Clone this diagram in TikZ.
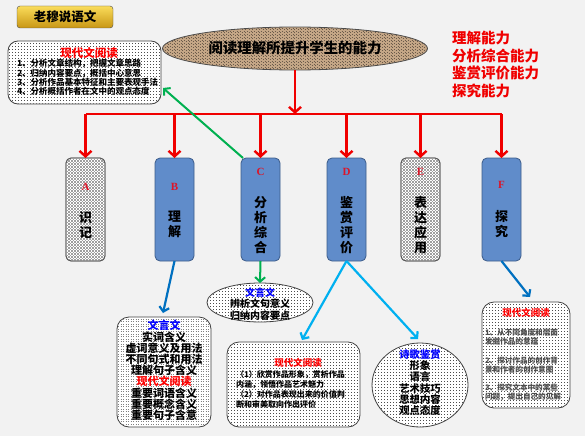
\documentclass[tikz,border=0pt]{standalone}
\usepackage{fontspec}
\setmainfont{Liberation Serif}
\newfontfamily\cjk{Noto Sans CJK SC}
\usetikzlibrary{shapes.geometric,arrows.meta}
\definecolor{bgcol}{RGB}{242,242,242}
\definecolor{myred}{RGB}{240,0,0}
\definecolor{lettred}{RGB}{220,20,40}
\definecolor{mygreen}{RGB}{0,176,80}
\definecolor{myblue}{RGB}{0,112,192}
\definecolor{mycyan}{RGB}{0,176,240}
\definecolor{boxblue}{RGB}{96,140,202}
\definecolor{boxborder}{RGB}{60,92,138}
\definecolor{ellcol}{RGB}{196,166,134}
\definecolor{gold1}{RGB}{250,220,90}
\definecolor{gold2}{RGB}{200,150,20}
\tikzset{
  every node/.style={inner sep=0pt, outer sep=0pt},
  cjkt/.style 2 args={font=\cjk\bfseries\fontsize{#1}{#2}\selectfont},
  redarrow/.style={draw=myred, line width=2.4pt, -{Straight Barb[length=5.5pt,width=12pt]}},
  redline/.style={draw=myred, line width=2.4pt},
  greenarrow/.style={draw=mygreen, line width=2pt, -{Straight Barb[length=4.5pt,width=10pt]}},
  bluearrow/.style={draw=myblue, line width=2.2pt, -{Straight Barb[length=4.5pt,width=10pt]}},
  cyanarrow/.style={draw=mycyan, line width=2.2pt, -{Straight Barb[length=4.5pt,width=10pt]}},
  bluebox/.style={rectangle, rounded corners=5pt, draw=boxborder, fill=boxblue, line width=0.8pt, minimum width=39pt, minimum height=103pt},
  hatchbox/.style={rectangle, rounded corners=5pt, draw=gray!70!black, fill=white, line width=0.8pt, minimum width=39pt, minimum height=103pt},
  dotbox/.style={rectangle, draw=gray!50!black, fill=white, line width=0.8pt},
  dotell/.style={ellipse, draw=gray!50!black, fill=white, line width=0.8pt},
  dotrow/.style={draw=black!70, line width=0.9pt, dash pattern=on 0.9pt off 2.1pt},
  checkrow/.style={draw=gray!75, line width=1.5pt, dash pattern=on 1.5pt off 1.5pt},
  speckrow/.style={draw=ellcol!55!black, line width=0.9pt, dash pattern=on 0.9pt off 2.6pt},
  letter/.style={font=\bfseries\fontsize{11}{11}\selectfont, text=lettred},
  boxtext/.style={cjkt={13}{15}, align=center},
}
\begin{document}
\begin{tikzpicture}[x=1pt,y=-1pt]
\fill[bgcol] (0,0) rectangle (585,436);
\useasboundingbox (0,0) rectangle (585,436);

% title
\node[rectangle, rounded corners=3pt, draw=gray!60!black, top color=gold1, bottom color=gold2,
      minimum width=96pt, minimum height=22pt, cjkt={12.5}{13}] (title) at (65,17) {老穆说语文};

% top-left box
\node[dotbox, rounded corners=10pt, minimum width=153pt, minimum height=63pt] (lbox) at (84.5,72.5) {};
\begin{scope}
  \clip[rounded corners=10pt] (8.5,41.5) rectangle (160.5,103.5);
  \foreach \yy in {43,46,...,103} \draw[dotrow] (9,\yy) -- (161,\yy);
\end{scope}
\node[cjkt={11.5}{12}, text=red] (lboxt) at (89,53) {现代文阅读};
\node[cjkt={8.5}{9.4}, anchor=west, align=left] (lboxb) at (17,77.5)
  {1、分析文章结构，把握文章思路\\2、归纳内容要点，概括中心意思\\3、分析作品基本特征和主要表现手法\\4、分析概括作者在文中的观点态度};

% main ellipse
\node[ellipse, draw=gray!60!black, line width=0.8pt, fill=ellcol, minimum width=265pt, minimum height=43pt] (main) at (295,48.5) {};
\begin{scope}
  \clip (295,48.5) ellipse [x radius=132, y radius=21];
  \foreach \yy in {28,31,...,70} \draw[speckrow] (163,\yy) -- (428,\yy);
  \foreach \yy in {29.5,32.5,...,70} \draw[speckrow, dash phase=1.7pt] (163,\yy) -- (428,\yy);
\end{scope}
\node[cjkt={14.4}{15}] (maint) at (295,48.5) {阅读理解所提升学生的能力};

% right red list
\node[cjkt={14.5}{15}, text=myred, anchor=west] (r1) at (452,38) {理解能力};
\node[cjkt={14.5}{15}, text=myred, anchor=west] (r2) at (452,56) {分析综合能力};
\node[cjkt={14.5}{15}, text=myred, anchor=west] (r3) at (452,73) {鉴赏评价能力};
\node[cjkt={14.5}{15}, text=myred, anchor=west] (r4) at (452,90.5) {探究能力};

% six category boxes
\node[hatchbox] (A) at (85.5,209.5) {};
\node[bluebox]  (B) at (174.5,209.5) {};
\node[bluebox]  (C) at (260.5,209.5) {};
\node[bluebox]  (D) at (346.5,209.5) {};
\node[hatchbox] (E) at (420.5,209.5) {};
\node[bluebox]  (F) at (501.5,209.5) {};
\foreach \xa/\xb in {66.5/104.5, 401.5/439.5}{
  \begin{scope}
    \clip[rounded corners=5pt] (\xa,158.5) rectangle (\xb,260.5);
    \foreach \yy in {159.25,162.25,...,261} \draw[checkrow] (\xa,\yy) -- (\xb,\yy);
    \foreach \yy in {160.75,163.75,...,261} \draw[checkrow, dash phase=1.5pt] (\xa,\yy) -- (\xb,\yy);
  \end{scope}
}
\draw[draw=gray!70!black, line width=0.8pt, rounded corners=5pt] (A.north west) rectangle (A.south east);
\draw[draw=gray!70!black, line width=0.8pt, rounded corners=5pt] (E.north west) rectangle (E.south east);

\node[letter] (lA) at (85.5,187) {A};
\node[letter] (lB) at (174.5,187) {B};
\node[letter] (lC) at (260.5,172) {C};
\node[letter] (lD) at (346.5,172) {D};
\node[letter] (lE) at (420.5,172) {E};
\node[letter] (lF) at (501.5,185) {F};

\node[boxtext] (tA) at (85.5,225.5) {识\\记};
\node[boxtext] (tB) at (174.5,224.5) {理\\解};
\node[boxtext] (tC) at (260.5,225) {分\\析\\综\\合};
\node[boxtext] (tD) at (346.5,225) {鉴\\赏\\评\\价};
\node[boxtext] (tE) at (420.5,225) {表\\达\\应\\用};
\node[boxtext] (tF) at (501.5,224.5) {探\\究};

% red connectors
\coordinate (hub) at (295,114);
\draw[redarrow] (main.south) -- (hub);
\draw[redline] (A.north |- hub) -- (F.north |- hub);
\foreach \n in {A,B,C,D,E,F} \draw[redarrow] (\n.north |- hub) -- (\n.north);

% green connectors
\draw[greenarrow] ([xshift=2pt]C.north west) -- ([shift={(2,-16)}]lbox.south east);
\node[dotell, minimum width=106pt, minimum height=39pt] (cell) at (260,302.5) {};
\begin{scope}
  \clip (260,302.5) ellipse [x radius=52.5, y radius=19];
  \foreach \yy in {285,288,...,321} \draw[dotrow] (207,\yy) -- (313,\yy);
\end{scope}
\node[cjkt={10}{11.5}, align=center] (cellt) at (260,304)
  {\textcolor{blue}{文言文}\\辨析文句意义\\归纳内容要点};
\draw[greenarrow] (C.south) -- (cell.north);

% B detail box
\node[dotbox, rounded corners=12pt, minimum width=94pt, minimum height=110pt] (bbox) at (164,372) {};
\begin{scope}
  \clip[rounded corners=12pt] (117.5,317.5) rectangle (210.5,426.5);
  \foreach \yy in {319,321.5,...,426} \draw[dotrow, draw=black!50, dash pattern=on 0.9pt off 1.6pt] (118,\yy) -- (211,\yy);
\end{scope}
\node[cjkt={11}{11.2}, align=center] (bboxt) at (164,370.5)
  {\textcolor{blue}{文言文}\\实词含义\\虚词意义及用法\\不同句式和用法\\理解句子含义\\\textcolor{red}{现代文阅读}\\重要词语含义\\重要概念含义\\重要句子含意};
\draw[bluearrow] (B.south) -- ([shift={(-1,-4)}]bbox.north);

% D detail left
\node[dotbox, rounded corners=12pt, minimum width=133pt, minimum height=85pt] (dl) at (293.5,384.5) {};
\begin{scope}
  \clip[rounded corners=12pt] (227.5,342.5) rectangle (359.5,426.5);
  \foreach \yy in {344,347,...,426} \draw[dotrow] (228,\yy) -- (360,\yy);
\end{scope}
\node[cjkt={9.5}{10}, text=red] (dlt) at (298,363) {现代文阅读};
\node[cjkt={8}{9.9}, anchor=west, align=left] (dlb) at (236,389.5)
  {（1）欣赏作品形象，赏析作品\\内涵，领悟作品艺术魅力\\（2）对作品表现出来的价值判\\断和审美取向作出评价};
\draw[cyanarrow] (D.south) -- ([shift={(8.5,-2)}]dl.north);

% D detail right
\node[dotell, minimum width=96pt, minimum height=84pt] (dr) at (420,385) {};
\begin{scope}
  \clip (420,385) ellipse [x radius=47.5, y radius=41.5];
  \foreach \yy in {345,348,...,427} \draw[dotrow] (372,\yy) -- (468,\yy);
\end{scope}
\node[cjkt={10.3}{11.2}, align=center] (drt) at (420,382.5)
  {\textcolor{blue}{诗歌鉴赏}\\形象\\语言\\艺术技巧\\思想内容\\观点态度};
\draw[cyanarrow] (D.south) -- ([shift={(-2,-4)}]dr.north);

% F detail
\node[dotbox, rounded corners=12pt, minimum width=88pt, minimum height=106pt] (fbox) at (526,355) {};
\begin{scope}
  \clip[rounded corners=12pt] (482.5,302.5) rectangle (569.5,407.5);
  \foreach \yy in {304,307,...,407} \draw[dotrow] (483,\yy) -- (570,\yy);
\end{scope}
\node[cjkt={9.5}{10}, text=red] (ft) at (526,313) {现代文阅读};
\node[cjkt={7.6}{8.5}, text=black!70, anchor=west, align=left] (f1) at (485,337) {1、从不同角度和层面\\发掘作品的意蕴};
\node[cjkt={7.6}{8.5}, text=black!70, anchor=west, align=left] (f2) at (485,365) {2、探讨作品的创作背\\景和作者的创作意图};
\node[cjkt={7.6}{8.5}, text=black!70, anchor=west, align=left] (f3) at (485,392.5) {3、探究文本中的某些\\问题，提出自己的见解};
\draw[bluearrow] (F.south) -- ([shift={(4,-5)}]fbox.north);
\end{tikzpicture}
\end{document}
